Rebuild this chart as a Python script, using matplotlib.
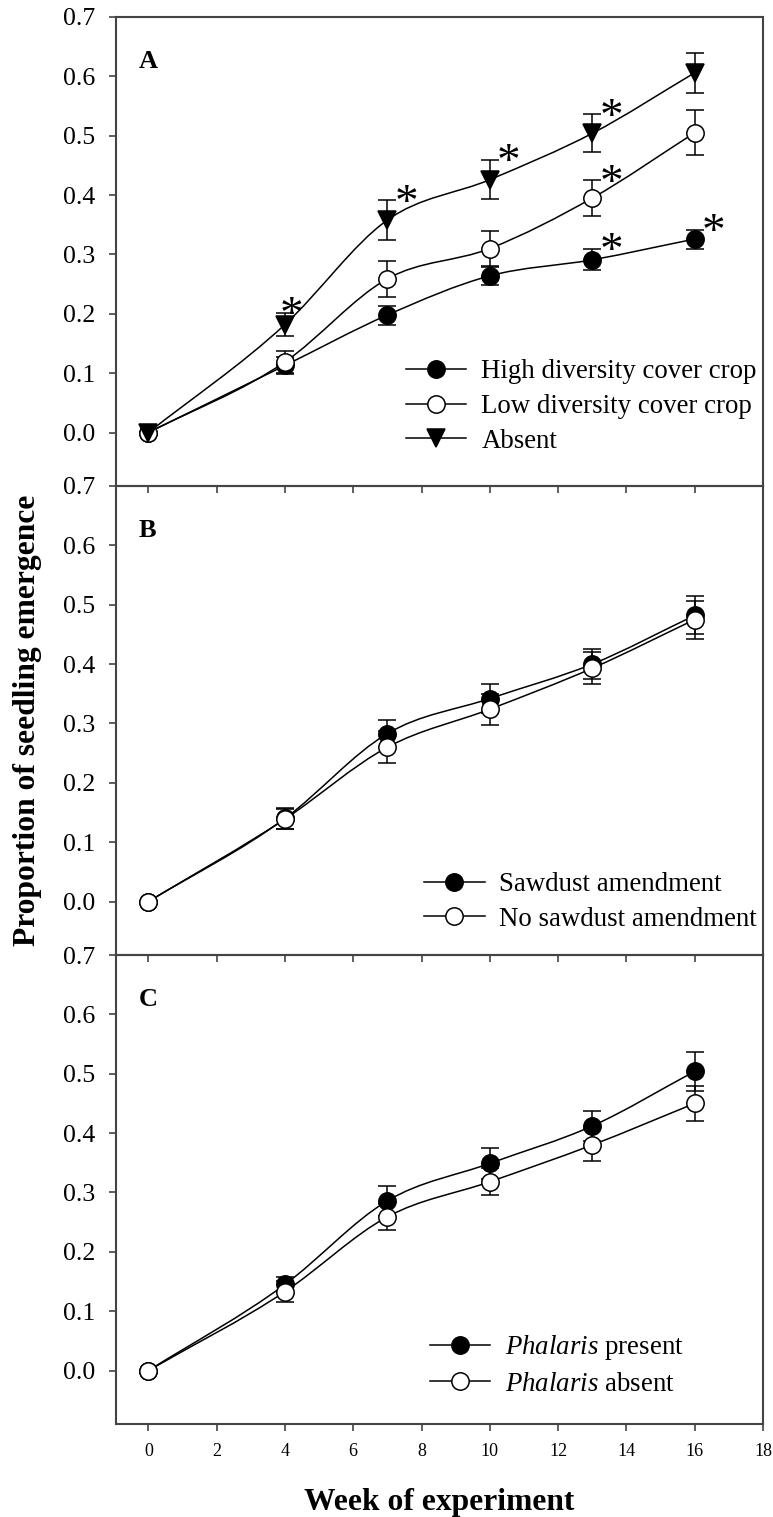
import numpy as np
import matplotlib
matplotlib.use('Agg')
import matplotlib.pyplot as plt
from matplotlib.path import Path
from matplotlib.patches import PathPatch
from matplotlib.lines import Line2D

plt.rcParams['font.family'] = 'Liberation Serif'
plt.rcParams['mathtext.fontset'] = 'custom'
plt.rcParams['mathtext.rm'] = 'Liberation Serif'
plt.rcParams['mathtext.it'] = 'Liberation Serif:italic'

# weeks of the experiment
weeks = [0, 4, 7, 10, 13, 16]

# panel A: cover crop
a_high = [0, 0.113, 0.198, 0.264, 0.291, 0.326]
a_high_se = [0, 0.015, 0.016, 0.015, 0.018, 0.016]
a_low = [0, 0.119, 0.259, 0.310, 0.395, 0.505]
a_low_se = [0, 0.018, 0.030, 0.030, 0.030, 0.038]
a_absent = [0, 0.182, 0.358, 0.426, 0.504, 0.606]
a_absent_se = [0, 0.020, 0.033, 0.033, 0.032, 0.034]
a_labels = ['High diversity cover crop', 'Low diversity cover crop', 'Absent']
# significant differences (series index, week)
a_sig = [(2, 4), (2, 7), (2, 10), (2, 13), (1, 13), (0, 13), (0, 16)]

# panel B: sawdust
b_saw = [0, 0.140, 0.283, 0.342, 0.400, 0.482]
b_saw_se = [0, 0.017, 0.023, 0.025, 0.025, 0.032]
b_nosaw = [0, 0.139, 0.260, 0.324, 0.393, 0.475]
b_nosaw_se = [0, 0.017, 0.027, 0.026, 0.027, 0.032]
b_labels = ['Sawdust amendment', 'No sawdust amendment']

# panel C: Phalaris
c_present = [0, 0.145, 0.286, 0.349, 0.412, 0.504]
c_present_se = [0, 0.012, 0.025, 0.026, 0.025, 0.033]
c_absent = [0, 0.133, 0.259, 0.318, 0.380, 0.450]
c_absent_se = [0, 0.018, 0.022, 0.023, 0.027, 0.030]
c_labels = [r'$\it{Phalaris}$ present', r'$\it{Phalaris}$ absent']

yticks = [0.0, 0.1, 0.2, 0.3, 0.4, 0.5, 0.6, 0.7]
xticks = [0, 2, 4, 6, 8, 10, 12, 14, 16, 18]

styles = {
    'filled': dict(marker='o', mfc='black', mec='black'),
    'open': dict(marker='o', mfc='white', mec='black'),
    'tri': dict(marker='v', mfc='black', mec='black'),
}
MS = 12.5


def smooth_path(x, y):
    # cubic hermite curve through the points, like the sigmaplot spline
    x = np.asarray(x, float)
    y = np.asarray(y, float)
    m = np.gradient(y, x)
    verts = [(x[0], y[0])]
    codes = [Path.MOVETO]
    for i in range(len(x) - 1):
        h = x[i + 1] - x[i]
        verts += [(x[i] + h / 3, y[i] + m[i] * h / 3),
                  (x[i + 1] - h / 3, y[i + 1] - m[i + 1] * h / 3),
                  (x[i + 1], y[i + 1])]
        codes += [Path.CURVE4] * 3
    return Path(verts, codes)


def draw_series(ax, y, se, style):
    ax.add_patch(PathPatch(smooth_path(weeks, y), fc='none', ec='black', lw=1.1, zorder=2))
    ax.errorbar(weeks, y, yerr=se, fmt='none', ecolor='black', elinewidth=1.1,
                capsize=6.5, capthick=1.1, errorevery=(1, 1), zorder=3)
    ax.plot(weeks, y, ls='none', ms=MS, mew=1.1, zorder=4, **styles[style])


def add_legend(ax, labels, keys, anchor):
    handles = [Line2D([], [], color='black', lw=1.1, ms=MS, mew=1.1, **styles[k]) for k in keys]
    ax.legend(handles, labels, loc='upper left', bbox_to_anchor=anchor, frameon=False,
              fontsize=19.4, handlelength=2.25, handletextpad=0.55, labelspacing=0.36,
              borderpad=0, borderaxespad=0)


fig = plt.figure(figsize=(7.73, 15.17), dpi=100)
axes = fig.subplots(3, 1, sharex=True)
fig.subplots_adjust(left=0.150, right=0.987, top=0.9888, bottom=0.0613, hspace=0)

for ax, letter in zip(axes, ['A', 'B', 'C']):
    ax.patch.set_visible(False)
    ax.set_xlim(-0.95, 18)
    ax.set_ylim(-0.09, 0.7)
    ax.set_yticks(yticks)
    ax.set_yticklabels(['%.1f' % t for t in yticks])
    ax.set_xticks(xticks)
    ax.tick_params(axis='y', direction='out', length=5, width=1.2, color='#444444',
                   labelsize=18.5, pad=10)
    ax.tick_params(axis='x', direction='out', length=5, width=1.2, color='#444444',
                   labelsize=13, pad=9)
    for sp in ax.spines.values():
        sp.set_color('#444444')
        sp.set_linewidth(1.5)
    ax.text(0.035, 0.905, letter, transform=ax.transAxes, fontsize=19, fontweight='bold',
            ha='left', va='center')

ax = axes[0]
draw_series(ax, a_high, a_high_se, 'filled')
draw_series(ax, a_low, a_low_se, 'open')
draw_series(ax, a_absent, a_absent_se, 'tri')
a_series = [(a_high, a_high_se), (a_low, a_low_se), (a_absent, a_absent_se)]
for s, wk in a_sig:
    i = weeks.index(wk)
    top = a_series[s][0][i] + a_series[s][1][i]
    dx = 0.2 if wk == 4 else 0.55
    ax.annotate('*', xy=(wk + dx, top), xytext=(0, -11), textcoords='offset points',
                fontsize=34, ha='center', va='baseline')
add_legend(ax, a_labels, ['filled', 'open', 'tri'], (0.448, 0.27))

ax = axes[1]
draw_series(ax, b_saw, b_saw_se, 'filled')
draw_series(ax, b_nosaw, b_nosaw_se, 'open')
add_legend(ax, b_labels, ['filled', 'open'], (0.476, 0.177))

ax = axes[2]
draw_series(ax, c_present, c_present_se, 'filled')
draw_series(ax, c_absent, c_absent_se, 'open')
add_legend(ax, c_labels, ['filled', 'open'], (0.485, 0.194))

fig.text(0.035, 0.525, 'Proportion of seedling emergence', rotation=90, fontsize=22.7,
         fontweight='bold', ha='center', va='center')
fig.text(0.568, 0.0046, 'Week of experiment', fontsize=22.7, fontweight='bold',
         ha='center', va='baseline')

fig.savefig('out.png', dpi=100)
